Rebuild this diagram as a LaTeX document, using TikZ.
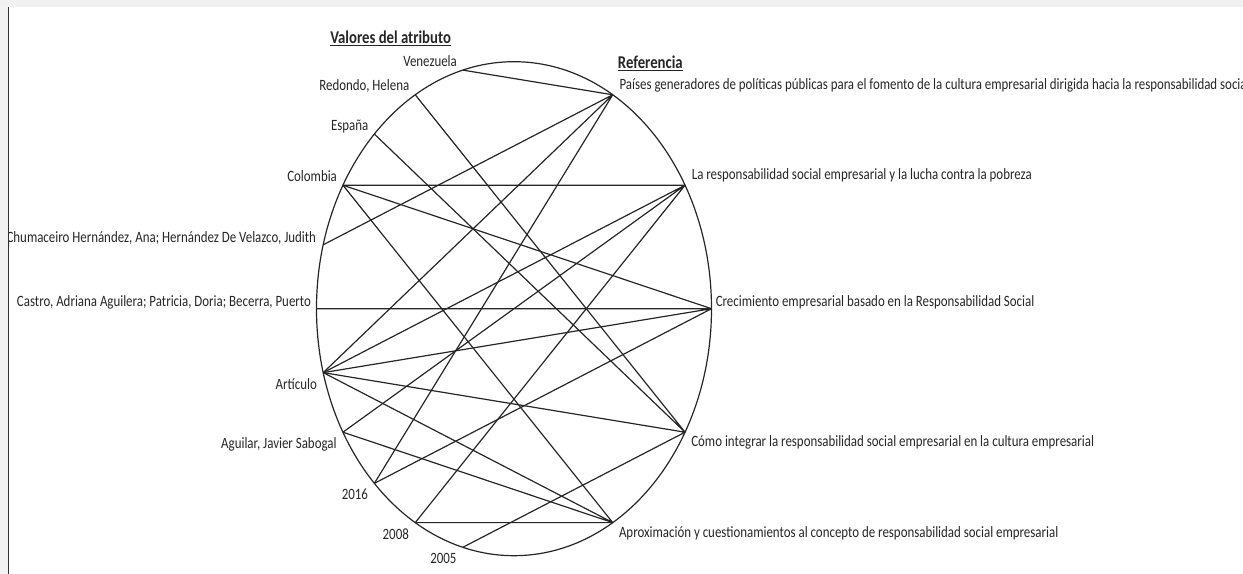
\documentclass[tikz,border=0pt]{standalone}
\usepackage{fontspec}
\setmainfont[FakeStretch=0.82]{Carlito}

\begin{document}
\begin{tikzpicture}[x=0.75pt,y=0.75pt,
	lbl/.style={inner sep=0pt, text=black!85, font=\fontsize{11.8pt}{14pt}\selectfont},
	upleft/.style={lbl, anchor=base east, xshift=-4.3pt, yshift=3pt},
	midleft/.style={lbl, anchor=base east, xshift=-4pt, yshift=1.5pt},
	lowleft/.style={lbl, anchor=base east, xshift=-4.6pt, yshift=-12.4pt},
	upright/.style={lbl, anchor=base west, xshift=4.9pt, yshift=4.3pt},
	midright/.style={lbl, anchor=base west, xshift=3pt, yshift=1.5pt},
	lowright/.style={lbl, anchor=base west, xshift=4.5pt, yshift=-10.9pt},
	heading/.style={inner sep=0pt, anchor=base west, text=black!85, font=\fontsize{13.5pt}{16pt}\selectfont\bfseries},
	link/.style={black!85, line width=0.9pt}]
	\useasboundingbox (-514,-265.3) rectangle (729,308.7);
	
	% Draw the ring
	\draw[link] (0,0) ellipse (197.5 and 247);
	
	% Points of the attribute values
	\coordinate (ven) at (105:197.5 and 247);
	\coordinate (red) at (120:197.5 and 247);
	\coordinate (esp) at (135:197.5 and 247);
	\coordinate (col) at (150:197.5 and 247);
	\coordinate (chu) at (165:197.5 and 247);
	\coordinate (cas) at (180:197.5 and 247);
	\coordinate (art) at (195:197.5 and 247);
	\coordinate (agu) at (210:197.5 and 247);
	\coordinate (y16) at (225:197.5 and 247);
	\coordinate (y08) at (240:197.5 and 247);
	\coordinate (y05) at (255:197.5 and 247);
	
	% Points of the references
	\coordinate (pai) at (60:197.5 and 247);
	\coordinate (lrs) at (30:197.5 and 247);
	\coordinate (cre) at (0:197.5 and 247);
	\coordinate (com) at (-30:197.5 and 247);
	\coordinate (apr) at (-60:197.5 and 247);
	
	% Draw the links
	\draw[link] (ven) -- (pai) (chu) -- (pai) (art) -- (pai) (y16) -- (pai);
	\draw[link] (col) -- (lrs) (agu) -- (lrs) (art) -- (lrs) (y08) -- (lrs);
	\draw[link] (col) -- (cre) (cas) -- (cre) (art) -- (cre) (y16) -- (cre);
	\draw[link] (esp) -- (com) (red) -- (com) (art) -- (com) (y05) -- (com);
	\draw[link] (col) -- (apr) (agu) -- (apr) (art) -- (apr) (y08) -- (apr);
	
	% Labels of the attribute values
	\node[upleft] (lven) at (ven) {Venezuela};
	\node[upleft] (lred) at (red) {Redondo, Helena};
	\node[upleft] (lesp) at (esp) {España};
	\node[upleft] (lcol) at (col) {Colombia};
	\node[midleft, xshift=-1.2pt] (lchu) at (chu) {Chumaceiro Hernández, Ana; Hernández De Velazco, Judith};
	\node[midleft] (lcas) at (cas) {Castro, Adriana Aguilera; Patricia, Doria; Becerra, Puerto};
	\node[lowleft] (lart) at (art) {Artículo};
	\node[lowleft] (lagu) at (agu) {Aguilar, Javier Sabogal};
	\node[lowleft] (ly16) at (y16) {2016};
	\node[lowleft] (ly08) at (y08) {2008};
	\node[lowleft] (ly05) at (y05) {2005};
	
	% Labels of the references
	\node[upright] (lpai) at (pai) {Países generadores de políticas públicas para el fomento de la cultura empresarial dirigida hacia la responsabilidad social};
	\node[upright] (llrs) at (lrs) {La responsabilidad social empresarial y la lucha contra la pobreza};
	\node[midright] (lcre) at (cre) {Crecimiento empresarial basado en la Responsabilidad Social};
	\node[lowright] (lcom) at (com) {Cómo integrar la responsabilidad social empresarial en la cultura empresarial};
	\node[lowright] (lapr) at (apr) {Aproximación y cuestionamientos al concepto de responsabilidad social empresarial};
	
	% Headings
	\node[heading] (hval) at (-184,265.4) {\underline{Valores del atributo}};
	\node[heading] (href) at (103.7,240.4) {\underline{Referencia}};
	
	% Window frame
	\fill[black!6] (-514,308.7) rectangle (729,301.7);
	\fill[black!5] (-514,301.7) rectangle (-506,-265.3);
	\draw[black!80, line width=0.9pt] (-505.7,301.7) -- (-505.7,-265.3);
\end{tikzpicture}
\end{document}
